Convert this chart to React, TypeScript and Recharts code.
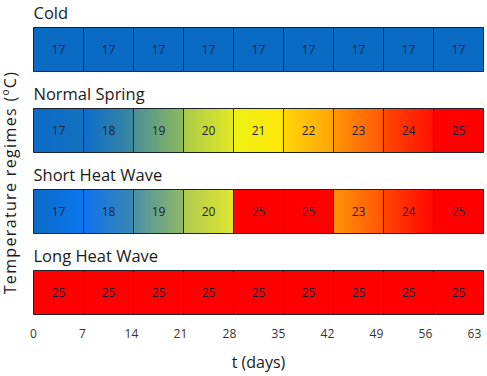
import React from 'react';
import { BarChart, Bar, XAxis, YAxis, Cell, LabelList, Label } from 'recharts';

const regimes = ['Cold', 'Normal Spring', 'Short Heat Wave', 'Long Heat Wave'];
const dayTicks = [0, 7, 14, 21, 28, 35, 42, 49, 56, 63];

const coldTemps = [17, 17, 17, 17, 17, 17, 17, 17, 17];
const normalSpringTemps = [17, 18, 19, 20, 21, 22, 23, 24, 25];
const shortHeatWaveTemps = [17, 18, 19, 20, 25, 25, 23, 24, 25];
const longHeatWaveTemps = [25, 25, 25, 25, 25, 25, 25, 25, 25];

const temps = [coldTemps, normalSpringTemps, shortHeatWaveTemps, longHeatWaveTemps];

// left -> right gradient stops for each week cell
const RED: [string, string] = ['#ff0000', '#ff0000'];
const COLD: [string, string] = ['#0a6bc5', '#0a6bc5'];
const coldFills = coldTemps.map(() => COLD);
const normalFills: [string, string][] = [
  ['#0a6bc8', '#1472bf'],
  ['#0d6bcc', '#3a8a9c'],
  ['#4a8f96', '#8cb95c'],
  ['#a9c94a', '#e2ea22'],
  ['#eef213', '#ffe60a'],
  ['#ffd708', '#ffa408'],
  ['#ff9606', '#ff5606'],
  ['#ff4804', '#ff1002'],
  RED,
];
const shortFills: [string, string][] = [
  ['#0b6bc6', '#0a78ee'],
  ['#0f72f0', '#3b88ae'],
  ['#4a90a6', '#90b866'],
  ['#b0c850', '#e0e830'],
  RED,
  RED,
  ['#ff9406', '#ff5406'],
  ['#ff4604', '#ff0602'],
  RED,
];
const longFills = longHeatWaveTemps.map(() => RED);
const fills = [coldFills, normalFills, shortFills, longFills];

const weeks = dayTicks.slice(0, -1).map((d, i) => dayTicks[i + 1] - d);

const rows = regimes.map((name, r) => {
  const row: Record<string, string | number> = { name };
  weeks.forEach((len, i) => {
    row[`d${i}`] = len;
    row[`t${i}`] = temps[r][i];
  });
  return row;
});

const FONT = '"Open Sans", sans-serif';
const STROKE = '#1e2329';

const DayTick = (props: any) => {
  const { x, y, payload } = props;
  return (
    <text x={x} y={y - 3} textAnchor="middle" fontFamily={FONT} fontSize={12} fill="#333">
      {payload.value}
    </text>
  );
};

const Title = (props: any) => {
  const { x, y, value } = props;
  return (
    <text x={x} y={y - 9} fontFamily={FONT} fontSize={16.5} fill="#1a1a1a">
      {value}
    </text>
  );
};

export default function App() {
  return (
    <div style={{ width: 487, height: 376 }}>
      <style>{'body{margin:0}'}</style>
      <BarChart
        width={487}
        height={376}
        data={rows}
        layout="vertical"
        margin={{ top: 8.5, right: 3.5, bottom: 13.5, left: 33.5 }}
      >
        <defs>
          {fills.map((row, r) =>
            row.map(([a, b], i) => (
              <linearGradient key={`${r}-${i}`} id={`g-${r}-${i}`} x1="0" y1="0" x2="1" y2="0">
                <stop offset="0%" stopColor={a} />
                <stop offset="100%" stopColor={b} />
              </linearGradient>
            ))
          )}
        </defs>
        <XAxis xAxisId="cells" type="number" domain={[0, 63]} height={0} hide />
        {/* the printed day scale in the figure is slightly shorter than the cells */}
        <XAxis
          xAxisId="days"
          type="number"
          domain={[0, 64.3]}
          ticks={dayTicks}
          height={30}
          axisLine={false}
          tickLine={false}
          tick={<DayTick />}
          interval={0}
          allowDataOverflow
        >
          <Label
            content={(p: any) => (
              <text
                x={258.5}
                y={p.viewBox.y + 35}
                textAnchor="middle"
                fontFamily={FONT}
                fontSize={16}
                fill="#1a1a1a"
              >
                t (days)
              </text>
            )}
          />
          <Label
            content={() => (
              <text
                x={0}
                y={0}
                transform="translate(15.5,182.5) rotate(-90)"
                textAnchor="middle"
                fontFamily={FONT}
                fontSize={16}
                letterSpacing={1.35}
                fill="#1a1a1a"
              >
                Temperature regimes (ºC)
              </text>
            )}
          />
        </XAxis>
        <YAxis
          type="category"
          dataKey="name"
          width={0}
          tick={false}
          axisLine={false}
          tickLine={false}
        />
        {weeks.map((_, i) => (
          <Bar
            key={i}
            xAxisId="cells"
            dataKey={`d${i}`}
            stackId="w"
            barSize={44}
            stroke={STROKE}
            strokeWidth={1}
            isAnimationActive={false}
          >
            {rows.map((_, r) => (
              <Cell key={r} fill={`url(#g-${r}-${i})`} />
            ))}
            <LabelList
              dataKey={`t${i}`}
              position="center"
              fontFamily={FONT}
              fontSize={12}
              fill="#1c2238"
            />
            {i === 0 && <LabelList dataKey="name" content={<Title />} />}
          </Bar>
        ))}
      </BarChart>
    </div>
  );
}
